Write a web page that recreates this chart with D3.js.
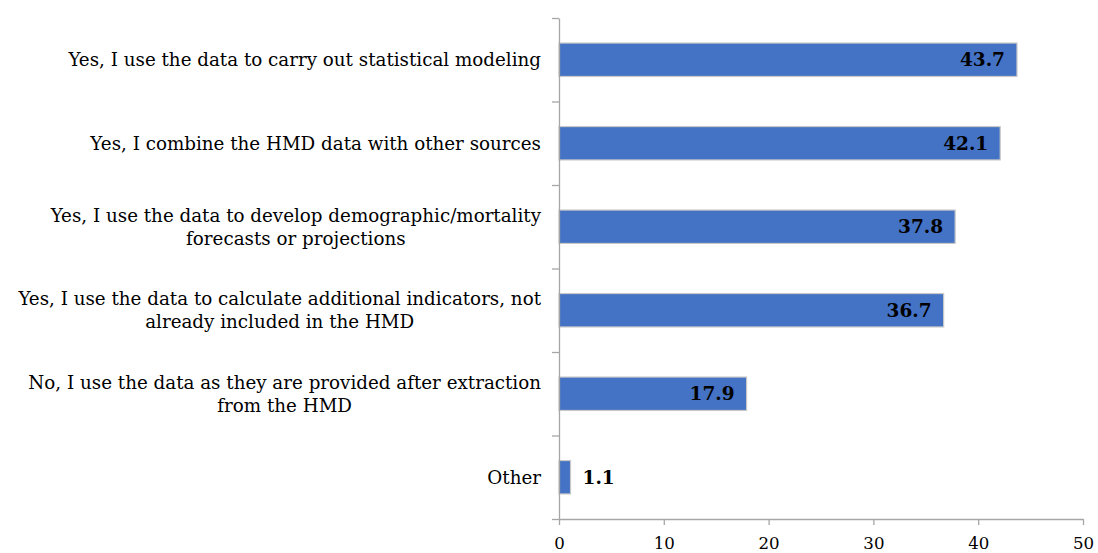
<!DOCTYPE html>
<html>
<head>
<meta charset="utf-8">
<script src="https://cdn.jsdelivr.net/npm/d3@7"></script>
<style>
  body { margin: 0; background: #fff; }
  svg text { font-family: "DejaVu Serif", Georgia, serif; }
</style>
</head>
<body>
<div id="chart"></div>
<script>
// categories top to bottom, each label split into its lines
let categories = [
  ["Yes, I use the data to carry out statistical modeling"],
  ["Yes, I combine the HMD data with other sources"],
  ["Yes, I use the data to develop demographic/mortality", "forecasts or projections"],
  ["Yes, I use the data to calculate additional indicators, not", "already included in the HMD"],
  ["No, I use the data as they are provided after extraction", "from the HMD"],
  ["Other"]
];
let values = [43.7, 42.1, 37.8, 36.7, 17.9, 1.1];
let xTicks = [0, 10, 20, 30, 40, 50];

let w = 1098;
let h = 553;
let plotLeft = 559, plotRight = 1083, plotTop = 18, plotBottom = 519;

let svg = d3.select("#chart").append("svg")
  .attr("width", w)
  .attr("height", h);

let xScale = d3.scaleLinear().domain([0, 50]).range([plotLeft, plotRight]);
let yScale = d3.scaleBand().domain(d3.range(categories.length)).range([plotTop, plotBottom]).paddingInner(0.6).paddingOuter(0.3);

// bars
svg.selectAll(".bar").data(values).enter()
  .append("rect")
    .attr("class", "bar")
    .attr("x", xScale(0))
    .attr("y", (d, i) => yScale(i))
    .attr("width", d => xScale(d) - xScale(0))
    .attr("height", yScale.bandwidth())
    .attr("fill", "#4472c4")
    .attr("stroke", "#c8c8c8")
    .attr("stroke-width", 1.2)
;

// value labels: inside the bar if long enough, else just after
svg.selectAll(".val").data(values).enter()
  .append("text")
    .attr("class", "val")
    .attr("x", d => d > 5 ? xScale(d) - 12 : xScale(d) + 12)
    .attr("y", (d, i) => yScale(i) + yScale.bandwidth() / 2)
    .attr("dy", "0.36em")
    .attr("text-anchor", d => d > 5 ? "end" : "start")
    .attr("font-size", 18.5)
    .attr("font-weight", "bold")
    .attr("fill", "#000")
    .text(d => d.toFixed(1))
;

// y axis (band edges as ticks)
let yAxisScale = d3.scaleLinear().domain([0, categories.length]).range([plotTop, plotBottom]);
let yAxis = d3.axisLeft(yAxisScale).tickValues(d3.range(categories.length + 1)).tickSize(7).tickSizeOuter(0).tickFormat("");
svg.append("g")
  .attr("transform", "translate(" + plotLeft + ",0)")
  .call(yAxis)
  .call(g => g.selectAll("line, path").attr("stroke", "#a6a6a6").attr("stroke-width", 1.3))
;

// category labels
let labelRight = plotLeft - 18;
let lineH = 23;
categories.forEach(function(lines, i){
  let cy = yScale(i) + yScale.bandwidth() / 2;
  let t = svg.append("text")
    .attr("font-size", 18.3)
    .attr("fill", "#000");
  lines.forEach(function(line, j){
    t.append("tspan")
      .attr("y", cy + (j - (lines.length - 1) / 2) * lineH)
      .attr("dy", "0.35em")
      .text(line);
  });
  // widest line sits flush right, other lines centred under it
  let widths = [];
  t.selectAll("tspan").each(function(){ widths.push(this.getComputedTextLength()); });
  let maxW = d3.max(widths);
  t.attr("text-anchor", "middle");
  t.selectAll("tspan").attr("x", labelRight - maxW / 2);
});

// x axis
let xAxis = d3.axisBottom(xScale).tickValues(xTicks).tickSize(6).tickSizeOuter(0).tickPadding(12);
svg.append("g")
  .attr("transform", "translate(0," + plotBottom + ")")
  .call(xAxis)
  .call(g => g.selectAll("line, path").attr("stroke", "#a6a6a6").attr("stroke-width", 1.3))
  .call(g => g.selectAll("text").attr("font-size", 16.6).attr("fill", "#000").attr("font-family", "'DejaVu Serif', Georgia, serif"))
;
</script>
</body>
</html>
